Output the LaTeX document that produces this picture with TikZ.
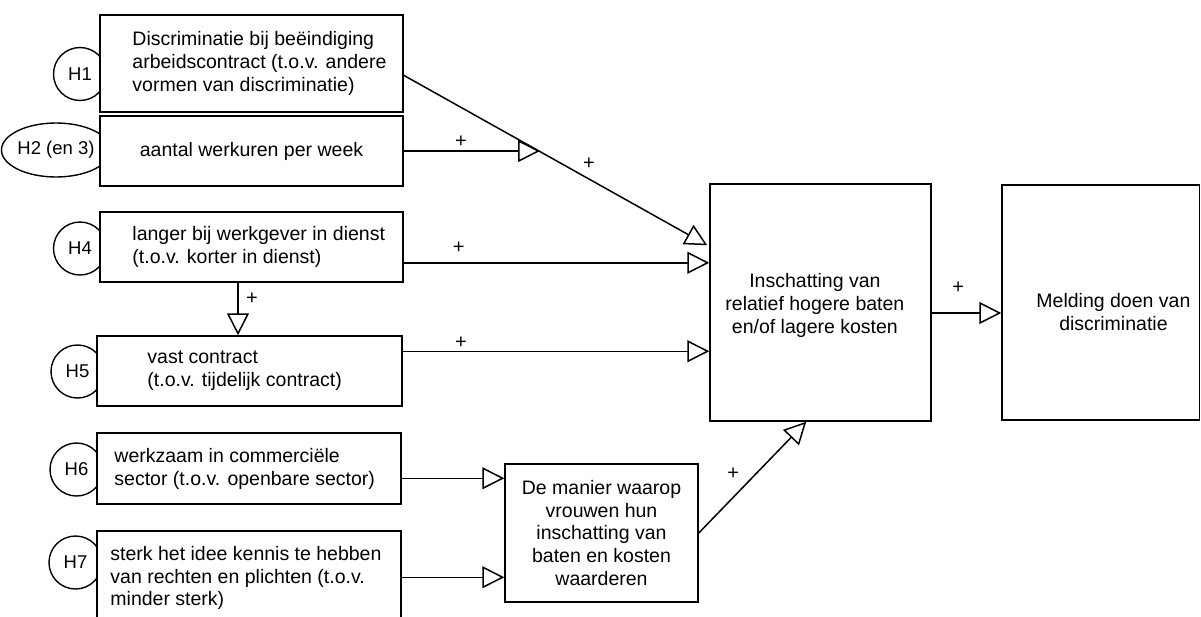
\documentclass[tikz,border=0pt]{standalone}
\usepackage{fontspec}
\setmainfont{Liberation Sans}
\usetikzlibrary{arrows.meta,calc,shapes.geometric}
\begin{document}
\begin{tikzpicture}[x=1pt,y=-1pt,
  box/.style={draw, fill=white, line width=1.5pt, inner sep=0pt, align=center,
    font=\fontsize{19.5}{22.9}\selectfont},
  lab/.style={inner sep=0pt, align=left, anchor=west, font=\fontsize{19.5}{22.9}\selectfont},
  hyp/.style={draw, circle, fill=white, line width=1.4pt, minimum size=53pt, inner sep=0pt,
    font=\fontsize{18.5}{20}\selectfont},
  arr/.style={line width=1.5pt, -{Triangle[open, length=22pt, width=22pt]}},
  plus/.style={font=\fontsize{20}{20}\selectfont, inner sep=0pt}
]
\clip (0,0) rectangle (1201,616);
\fill[white] (0,0) rectangle (1201,616);

% hypothesis markers
\node[hyp] (h1) at (80,74) {H1};
\node[hyp, ellipse, minimum width=92pt, minimum height=54pt] (h2) at (56,150) {H2 (en 3)};
\node[hyp] (h4) at (80,248.5) {H4};
\node[hyp] (h5) at (77.5,371.5) {H5};
\node[hyp] (h6) at (76.5,469.5) {H6};
\node[hyp] (h7) at (75.5,562.5) {H7};

% boxes
\node[box, minimum width=303pt, minimum height=97pt,
  label={[lab, xshift=33pt]west:{Discriminatie bij beëindiging\\arbeidscontract (t.o.v. andere\\vormen van discriminatie)}}]
  (b1) at (251.5,63.5) {};
\node[box, minimum width=303pt, minimum height=70pt] (b2) at (251.5,151) {aantal werkuren per week};
\node[box, minimum width=303pt, minimum height=70pt,
  label={[lab, xshift=33pt]west:{langer bij werkgever in dienst\\(t.o.v. korter in dienst)}}]
  (b4) at (251.5,247) {};
\node[box, minimum width=305pt, minimum height=70pt,
  label={[lab, xshift=51pt]west:{vast contract\\(t.o.v. tijdelijk contract)}}]
  (b5) at (249.5,371) {};
\node[box, minimum width=304pt, minimum height=71pt,
  label={[lab, xshift=18pt]west:{werkzaam in commerciële\\sector (t.o.v. openbare sector)}}]
  (b6) at (249,468.5) {};
\node[box, minimum width=304pt, minimum height=94pt,
  label={[lab, xshift=14pt]west:{sterk het idee kennis te hebben\\van rechten en plichten (t.o.v.\\minder sterk)}}]
  (b7) at (249,578) {};
\node[box, minimum width=193pt, minimum height=138pt] (sm) at (601.5,533)
  {De manier waarop\\vrouwen hun\\inschatting van\\baten en kosten\\waarderen};
\node[box, minimum width=221pt, minimum height=237pt,
  label={[lab, align=center, xshift=16pt, yshift=-3pt]west:{Inschatting van\\relatief hogere baten\\en/of lagere kosten}}]
  (cen) at (820.5,302.5) {};
\node[box, minimum width=197.5pt, minimum height=235pt,
  label={[lab, align=center, xshift=35pt, yshift=-9.5pt]west:{Melding doen van\\discriminatie}}]
  (rt) at (1100.75,302.5) {};

% connectors
\coordinate (a1) at ($(b1.north east)!0.62!(b1.south east)$);
\coordinate (e1) at ($(cen.north west)+(-2,62)$);
\draw[arr] (a1) -- (e1) node[plus, pos=0.61, yshift=15pt] (p1) {+};

\coordinate (e2) at (540,151);
\draw[arr] (b2.east) -- (e2) node[plus, pos=0.42, yshift=9pt] (p2) {+};

\coordinate (a4) at ($(b4.south east)+(0,-20)$);
\draw[arr] (a4) -- (a4 -| cen.west) node[plus, pos=0.18, yshift=15pt] (p4) {+};

\coordinate (a5) at ($(b5.north east)+(0,16)$);
\draw[arr] (a5) -- (a5 -| cen.west) node[plus, pos=0.19, yshift=9pt] (p5) {+};

\coordinate (a45) at ($(b4.south)+(-13.5,0)$);
\draw[arr] (a45) -- (a45 |- b5.north) node[plus, pos=0.3, xshift=14pt] (p45) {+};

\coordinate (a6) at ($(b6.north east)+(0,46)$);
\draw[arr] (a6) -- (a6 -| sm.west);
\coordinate (a7) at ($(b7.north east)+(0,47)$);
\draw[arr] (a7) -- (a7 -| sm.west);

\coordinate (es) at ($(cen.south west)+(97,0)$);
\draw[arr] (sm.east) -- (es) node[plus, pos=0.32, yshift=24pt] (ps) {+};

\coordinate (ac) at ($(cen.east)+(0,10.5)$);
\draw[arr] (ac) -- (ac -| rt.west) node[plus, pos=0.38, yshift=25pt] (pc) {+};
\end{tikzpicture}
\end{document}
